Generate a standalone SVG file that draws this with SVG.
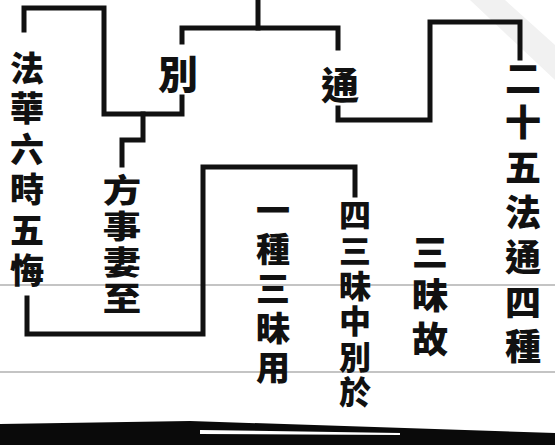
<svg xmlns="http://www.w3.org/2000/svg" width="555" height="445" viewBox="0 0 555 445">
<style>
.t{font-family:"Noto Sans CJK TC","Noto Sans CJK SC",sans-serif;font-weight:900;fill:#111;text-anchor:middle;dominant-baseline:central}
.v{font-family:"Noto Sans CJK TC","Noto Sans CJK SC",sans-serif;font-weight:900;fill:#111;writing-mode:vertical-rl;text-anchor:start}
.c{fill:none;stroke:#111;stroke-width:5;stroke-linecap:square;stroke-linejoin:miter}
.g{stroke:#8a8a8a;stroke-width:1.2}
</style>
<rect width="555" height="445" fill="#fff"/>
<polygon points="470,0 505,0 555,45 555,80" fill="#f1f1f1"/>
<line class="g" x1="0" y1="285" x2="555" y2="285"/>
<line class="g" x1="0" y1="372" x2="555" y2="372"/>
<g id="connectors">
<path class="c" d="M258,0 V28"/>
<path class="c" d="M182,42 V28 H338 V48"/>
<path class="c" d="M338,108 V120 H430 V22 H520 V58"/>
<path class="c" d="M182,97 V114 H104 V8 H24 V30"/>
<path class="c" d="M143,114 V140 H122 V165"/>
<path class="c" d="M27,298 V334 H203 V167 H355 V195"/>
</g>
<g id="node-fahua">
<text class="v" x="27" y="51" font-size="34" letter-spacing="6.4">法華六時五悔</text>
</g>
<g id="node-bie">
<text class="t" x="178" y="72" font-size="40">別</text>
</g>
<g id="node-tong">
<text class="t" x="340" y="82" font-size="38">通</text>
</g>
<g id="node-fangdeng">
<text class="v" x="0" y="174" font-size="32" letter-spacing="4" transform="translate(122,0) scale(1.2,1)">方事妻至</text>
</g>
<g id="node-ershiwu">
<text class="v" x="523" y="60" font-size="36" letter-spacing="8.8">二十五法通四種</text>
</g>
<g id="node-sanmeigu">
<text class="v" x="430" y="234" font-size="36" letter-spacing="7.5">三昧故</text>
</g>
<g id="node-sisanmei">
<text class="v" x="355" y="199" font-size="32" letter-spacing="3.4">四三昧中別於</text>
</g>
<g id="node-yizhong">
<text class="v" x="273" y="193" font-size="34" letter-spacing="5.2">一種三昧用</text>
</g>
<polygon points="0,424 190,421 555,433 555,445 0,445" fill="#0a0a0a"/>
<polygon points="200,430 400,433 400,435 200,434" fill="#fff"/>
</svg>
